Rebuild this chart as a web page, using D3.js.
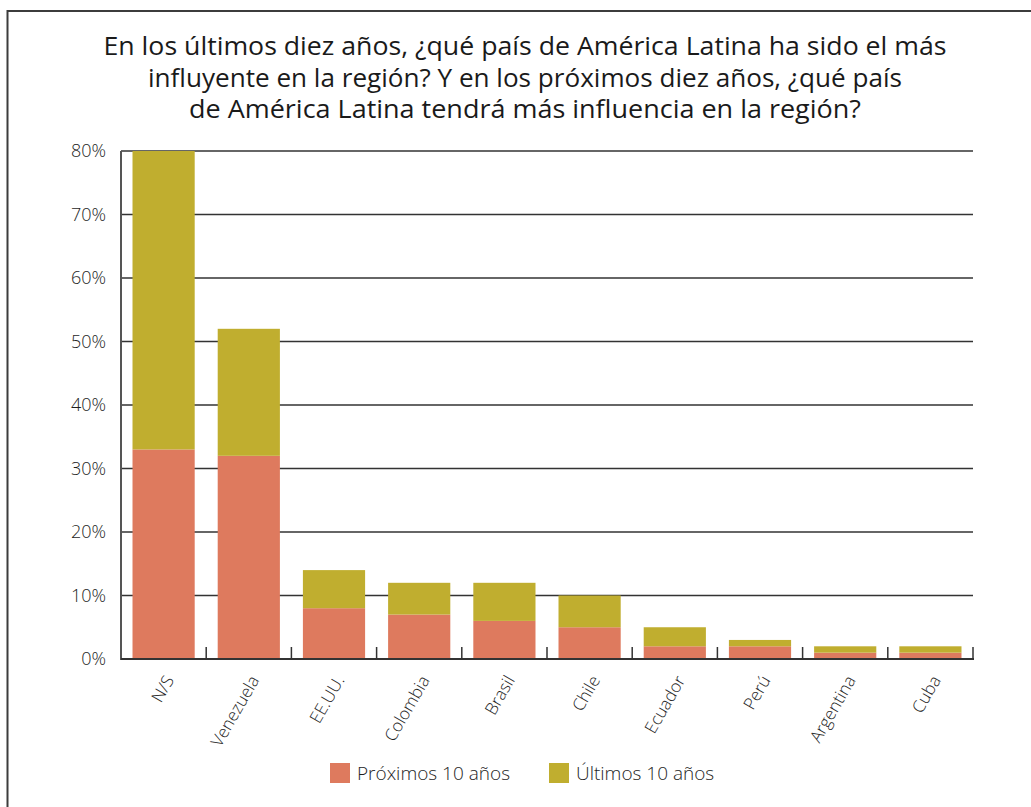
<!DOCTYPE html>
<html>
<head>
<meta charset="utf-8">
<script src="https://cdn.jsdelivr.net/npm/d3@7"></script>
<style>
  html, body { margin: 0; padding: 0; background: #fff; }
  svg { display: block; }
  text { font-family: "Open Sans", "Noto Sans", sans-serif; fill: #222; }
</style>
</head>
<body>
<svg id="chart" width="1031" height="807"></svg>
<script>
const titleLines = [
  "En los últimos diez años, ¿qué país de América Latina ha sido el más",
  "influyente en la región? Y en los próximos diez años, ¿qué país",
  "de América Latina tendrá más influencia en la región?"
];
const categories = ["N/S", "Venezuela", "EE.UU.", "Colombia", "Brasil", "Chile", "Ecuador", "Perú", "Argentina", "Cuba"];
const proximos = [33, 32, 8, 7, 6, 5, 2, 2, 1, 1];
const ultimos  = [47, 20, 6, 5, 6, 5, 3, 1, 1, 1];
const seriesNames = ["Próximos 10 años", "Últimos 10 años"];
const seriesColors = ["#de7a5e", "#c0ae2f"];
const yTicks = [0, 10, 20, 30, 40, 50, 60, 70, 80];

(function () {
const svg = d3.select("#chart");

// frame
svg.append("rect").attr("x", 7.5).attr("y", 11).attr("width", 1200).attr("height", 1000)
  .attr("fill", "none").attr("stroke", "#3c3c3c").attr("stroke-width", 2);

// title
const titleWidths = [843, 754, 672];
svg.append("g").selectAll("text").data(titleLines).join("text")
  .attr("x", 525).attr("y", (d, i) => 55 + i * 31.5)
  .attr("text-anchor", "middle")
  .attr("font-size", 25)
  .attr("font-weight", 400)
  .style("fill", "#1a1a1a")
  .attr("textLength", (d, i) => titleWidths[i])
  .attr("lengthAdjust", "spacingAndGlyphs")
  .text(d => d);

const pLeft = 121, pRight = 973, pTop = 151, pBottom = 659;
const x = d3.scaleBand().domain(categories).range([pLeft, pRight]).paddingInner(0.27).paddingOuter(0.135);
const y = d3.scaleLinear().domain([0, 80]).range([pBottom, pTop]);

// gridlines
svg.append("g").selectAll("line").data(yTicks.filter(t => t > 0)).join("line")
  .attr("x1", pLeft).attr("x2", pRight)
  .attr("y1", d => y(d)).attr("y2", d => y(d))
  .attr("stroke", "#333").attr("stroke-width", 1.5);

// y labels
const yAxis = d3.axisLeft(y).tickValues(yTicks).tickFormat(d => d + "%").tickSize(0).tickPadding(15);
const yg = svg.append("g").attr("transform", `translate(${pLeft},0)`).call(yAxis);
yg.select(".domain").remove();
yg.selectAll("text").attr("font-size", 18).attr("font-weight", 300)
  .style("font-family", '"Open Sans", sans-serif').style("fill", "#1e1e1e");

// stacked bars
const rows = categories.map((c, i) => ({ cat: c, p: proximos[i], u: ultimos[i] }));
const stack = d3.stack().keys(["p", "u"])(rows);
svg.append("g").selectAll("g").data(stack).join("g")
  .attr("fill", (d, i) => seriesColors[i])
  .selectAll("rect").data(d => d).join("rect")
  .attr("x", d => x(d.data.cat))
  .attr("width", x.bandwidth())
  .attr("y", d => y(d[1]))
  .attr("height", d => y(d[0]) - y(d[1]));

// axes lines
svg.append("line").attr("x1", pLeft).attr("x2", pLeft).attr("y1", pTop).attr("y2", pBottom + 1)
  .attr("stroke", "#555").attr("stroke-width", 2);
svg.append("line").attr("x1", pLeft).attr("x2", pRight + 1).attr("y1", pBottom).attr("y2", pBottom)
  .attr("stroke", "#333").attr("stroke-width", 2);

// category boundary ticks
const step = x.step();
svg.append("g").selectAll("line").data(categories).join("line")
  .attr("x1", d => x(d) + x.bandwidth() + (step - x.bandwidth()) / 2)
  .attr("x2", d => x(d) + x.bandwidth() + (step - x.bandwidth()) / 2)
  .attr("y1", pBottom - 12).attr("y2", pBottom)
  .attr("stroke", "#333").attr("stroke-width", 1.5);

// x labels
svg.append("g").selectAll("text").data(categories).join("text")
  .attr("transform", d => `translate(${x(d) + x.bandwidth() / 2 + 11},${pBottom + 21}) rotate(-60)`)
  .attr("text-anchor", "end")
  .attr("font-size", 17)
  .attr("font-weight", 300)
  .style("fill", "#1e1e1e")
  .text(d => d);

// legend
const legend = svg.append("g");
const legX = [330, 549];
seriesNames.forEach((n, i) => {
  legend.append("rect").attr("x", legX[i]).attr("y", 763).attr("width", 20).attr("height", 20).attr("fill", seriesColors[i]);
  legend.append("text").attr("x", legX[i] + 27).attr("y", 780).attr("font-size", 19).attr("font-weight", 300)
    .style("fill", "#1e1e1e").text(n);
});
})();
</script>
</body>
</html>
